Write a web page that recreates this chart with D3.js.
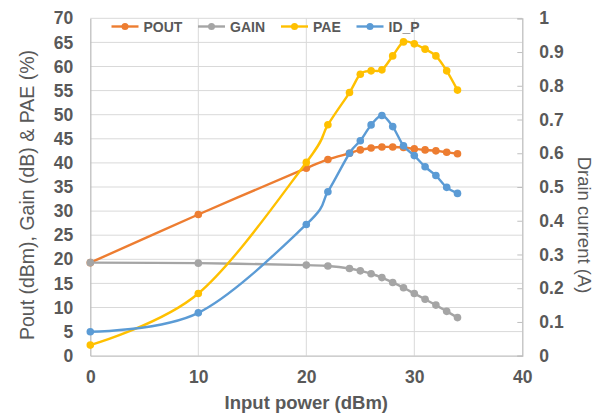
<!DOCTYPE html>
<html>
<head>
<meta charset="utf-8">
<script src="https://cdn.jsdelivr.net/npm/d3@7"></script>
<style>
  body { margin: 0; background: #fff; }
  svg text { font-family: "Liberation Sans", Arial, sans-serif; fill: #595959; }
</style>
</head>
<body>
<svg id="chart" width="602" height="415"></svg>
<script>
// input power (dBm)
var inputPower = [0, 10, 20, 22, 24, 25, 26, 27, 28, 29, 30, 31, 32, 33, 34];
var pout  = [19.3, 29.3, 38.9, 40.7, 42.0, 42.7, 43.1, 43.3, 43.3, 43.2, 42.9, 42.7, 42.5, 42.2, 41.9];
var gain  = [19.3, 19.2, 18.8, 18.6, 18.1, 17.6, 17.0, 16.2, 15.2, 14.1, 12.9, 11.7, 10.5, 9.2, 7.9];
var pae   = [2.2, 12.9, 40.1, 47.9, 54.6, 58.4, 59.1, 59.3, 62.2, 65.1, 64.7, 63.6, 62.2, 59.1, 55.1];
var idP   = [0.071, 0.127, 0.389, 0.486, 0.600, 0.637, 0.684, 0.712, 0.679, 0.622, 0.593, 0.560, 0.534, 0.499, 0.481];

var xTicks = [0, 10, 20, 30, 40];
var leftTicks = d3.range(0, 71, 5);
var rightTicks = d3.range(0, 1.01, 0.1);

var series = [
  { name: "POUT", values: pout, color: "#ED7D31", axis: "left" },
  { name: "GAIN", values: gain, color: "#A5A5A5", axis: "left" },
  { name: "PAE",  values: pae,  color: "#FFC000", axis: "left" },
  { name: "ID_P", values: idP,  color: "#5B9BD5", axis: "right" }
];

var svg = d3.select("#chart");
var plotL = 90.3, plotR = 522.3, plotT = 18.3, plotB = 355.7;

var x = d3.scaleLinear().domain([0, 40]).range([plotL, plotR]);
var yL = d3.scaleLinear().domain([0, 70]).range([plotB, plotT]);
var yR = d3.scaleLinear().domain([0, 1]).range([plotB, plotT]);

// gridlines
var grid = svg.append("g").attr("class", "grid");
grid.selectAll("line.h")
    .data(leftTicks.filter(function(d){ return d > 0; }))
    .enter().append("line")
    .attr("x1", plotL).attr("x2", plotR)
    .attr("y1", function(d){ return yL(d); })
    .attr("y2", function(d){ return yL(d); })
    .attr("stroke", "#d9d9d9").attr("stroke-width", 1);
grid.selectAll("line.v")
    .data(xTicks.filter(function(d){ return d > 0 && d < 40; }))
    .enter().append("line")
    .attr("y1", plotT).attr("y2", plotB)
    .attr("x1", function(d){ return x(d); })
    .attr("x2", function(d){ return x(d); })
    .attr("stroke", "#d9d9d9").attr("stroke-width", 1);

// axes
var xAxis = svg.append("g")
    .attr("transform", "translate(0," + plotB + ")")
    .call(d3.axisBottom(x).tickValues(xTicks).tickSize(0).tickPadding(15));
var lAxis = svg.append("g")
    .attr("transform", "translate(" + plotL + ",0)")
    .call(d3.axisLeft(yL).tickValues(leftTicks).tickSize(0).tickPadding(17));
var rAxis = svg.append("g")
    .attr("transform", "translate(" + plotR + ",0)")
    .call(d3.axisRight(yR).tickValues(rightTicks).tickSize(-5).tickPadding(17)
          .tickFormat(function(d){ return d3.format("~g")(+d.toFixed(1)); }));

[xAxis, lAxis, rAxis].forEach(function(a){
  a.selectAll(".domain").attr("stroke", "#bfbfbf").attr("stroke-width", 1.3);
  a.selectAll(".tick line").attr("stroke", "#bfbfbf");
  a.selectAll("text").attr("font-size", "17.5px").attr("font-weight", "bold")
    .attr("fill", "#595959").attr("font-family", "Liberation Sans, Arial, sans-serif");
});
rAxis.selectAll("text").attr("text-anchor", "start");

// axis titles
svg.append("text")
    .attr("x", (plotL + plotR) / 2).attr("y", 409)
    .attr("text-anchor", "middle")
    .attr("font-size", "18.5px").attr("font-weight", "bold")
    .text("Input power (dBm)");
svg.append("text")
    .attr("transform", "translate(34,195) rotate(-90)")
    .attr("text-anchor", "middle")
    .attr("font-size", "19.5px")
    .text("Pout (dBm), Gain (dB) & PAE (%)");
svg.append("text")
    .attr("transform", "translate(578,225) rotate(90)")
    .attr("text-anchor", "middle")
    .attr("font-size", "18.5px")
    .text("Drain current (A)");

// series
var plot = svg.append("g");
series.forEach(function(s){
  var yS = s.axis === "left" ? yL : yR;
  var pts = inputPower.map(function(p, i){ return [p, s.values[i]]; });
  var line = d3.line()
      .x(function(d){ return x(d[0]); })
      .y(function(d){ return yS(d[1]); })
      .curve(d3.curveCardinal.tension(0));
  var g = plot.append("g");
  g.append("path")
      .datum(pts)
      .attr("d", line)
      .attr("fill", "none")
      .attr("stroke", s.color)
      .attr("stroke-width", 2.4);
  g.selectAll("circle")
      .data(pts)
      .enter().append("circle")
      .attr("cx", function(d){ return x(d[0]); })
      .attr("cy", function(d){ return yS(d[1]); })
      .attr("r", 3.8)
      .attr("fill", s.color);
});

// legend
var legendX = [111.5, 198, 281, 356.5];
var legend = svg.append("g");
series.forEach(function(s, i){
  var lg = legend.append("g").attr("transform", "translate(" + legendX[i] + ",26.5)");
  lg.append("line").attr("x1", 0).attr("x2", 27).attr("y1", 0).attr("y2", 0)
    .attr("stroke", s.color).attr("stroke-width", 2.4);
  lg.append("circle").attr("cx", 13.5).attr("cy", 0).attr("r", 3.5).attr("fill", s.color);
  lg.append("text").attr("x", 32).attr("y", 5).attr("font-size", "14px")
    .attr("font-weight", "bold").text(s.name);
});
</script>
</body>
</html>
